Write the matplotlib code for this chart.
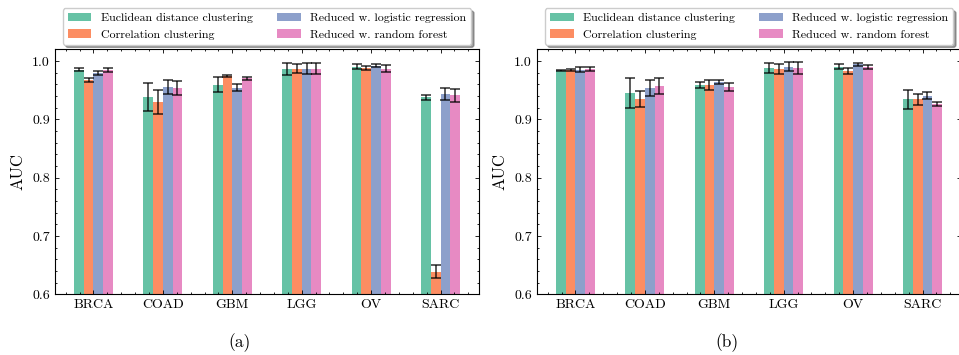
import matplotlib
matplotlib.use("Agg")
import matplotlib.pyplot as plt
from matplotlib.ticker import MultipleLocator
import numpy as np

plt.rcParams['font.family'] = ['cmr10', 'DejaVu Serif']
plt.rcParams['axes.formatter.use_mathtext'] = True
plt.rcParams['mathtext.fontset'] = 'cm'

categories = ["BRCA", "COAD", "GBM", "LGG", "OV", "SARC"]
series_names = ["Euclidean distance clustering", "Correlation clustering",
                "Reduced w. logistic regression", "Reduced w. random forest"]
colors = ["#66c2a5", "#fc8d62", "#8da0cb", "#e78ac3"]

# Panel (a)
a_euclid = [0.985, 0.938, 0.959, 0.986, 0.990, 0.938]
a_corr = [0.967, 0.930, 0.974, 0.987, 0.988, 0.639]
a_logreg = [0.980, 0.955, 0.954, 0.987, 0.992, 0.943]
a_rf = [0.985, 0.954, 0.970, 0.987, 0.987, 0.941]
a_euclid_err = [0.0023, 0.024, 0.013, 0.010, 0.0045, 0.0045]
a_corr_err = [0.003, 0.021, 0.002, 0.008, 0.003, 0.0115]
a_logreg_err = [0.0035, 0.012, 0.006, 0.010, 0.003, 0.0105]
a_rf_err = [0.0035, 0.012, 0.002, 0.010, 0.006, 0.0105]

# Panel (b)
b_euclid = [0.983, 0.945, 0.959, 0.988, 0.990, 0.934]
b_corr = [0.985, 0.935, 0.959, 0.986, 0.983, 0.934]
b_logreg = [0.985, 0.954, 0.964, 0.990, 0.994, 0.940]
b_rf = [0.987, 0.957, 0.955, 0.988, 0.990, 0.926]
b_euclid_err = [0.001, 0.025, 0.005, 0.008, 0.004, 0.016]
b_corr_err = [0.0017, 0.014, 0.008, 0.009, 0.0045, 0.0095]
b_logreg_err = [0.0045, 0.014, 0.004, 0.008, 0.003, 0.006]
b_rf_err = [0.0035, 0.014, 0.0065, 0.010, 0.0035, 0.0035]

panels = [
    ([a_euclid, a_corr, a_logreg, a_rf], [a_euclid_err, a_corr_err, a_logreg_err, a_rf_err], "(a)"),
    ([b_euclid, b_corr, b_logreg, b_rf], [b_euclid_err, b_corr_err, b_logreg_err, b_rf_err], "(b)"),
]

W, H = 959, 355
fig = plt.figure(figsize=(W / 100, H / 100), dpi=100)

ax_px = [(54.7, 49.3, 424.6, 245.0), (536.7, 49.3, 424.6, 245.0)]
caption_x = [240, 727]

bar_w = 0.14
x = np.arange(len(categories))

for (vals, errs, cap), (l, t, w, h), cx in zip(panels, ax_px, caption_x):
    ax = fig.add_axes([l / W, 1 - (t + h) / H, w / W, h / H])
    for i, (v, e) in enumerate(zip(vals, errs)):
        ax.bar(x + (i - 1.5) * bar_w, v, bar_w, yerr=e, color=colors[i],
               label=series_names[i], capsize=3.3,
               error_kw=dict(ecolor='black', alpha=0.75, elinewidth=1.2, capthick=1.2))
    ax.set_ylim(0.6, 1.02)
    ax.set_xticks(x)
    ax.set_xticklabels(categories)
    ax.xaxis.set_minor_locator(MultipleLocator(0.2))
    ax.yaxis.set_major_locator(MultipleLocator(0.1))
    ax.yaxis.set_minor_locator(MultipleLocator(0.02))
    ax.set_yticklabels([f"{v:.1f}" for v in ax.get_yticks()])
    ax.set_ylim(0.6, 1.02)
    ax.tick_params(which='both', direction='in', top=True, right=True, labelsize=10)
    ax.tick_params(which='major', length=3.0, width=0.6)
    ax.tick_params(which='minor', length=1.6, width=0.6)
    for s in ax.spines.values():
        s.set_linewidth(0.8)
    ax.set_ylabel("AUC", fontsize=12, labelpad=5)
    ax.legend(loc='lower center', bbox_to_anchor=(0.5, 1.0), ncol=2,
              fontsize=8.6, frameon=True, shadow=True, fancybox=True,
              borderaxespad=0.4)
    fig.text(cx / W, 1 - 343 / H, cap, ha='center', va='center', fontsize=12.5)

fig.savefig("out.png", dpi=100)
